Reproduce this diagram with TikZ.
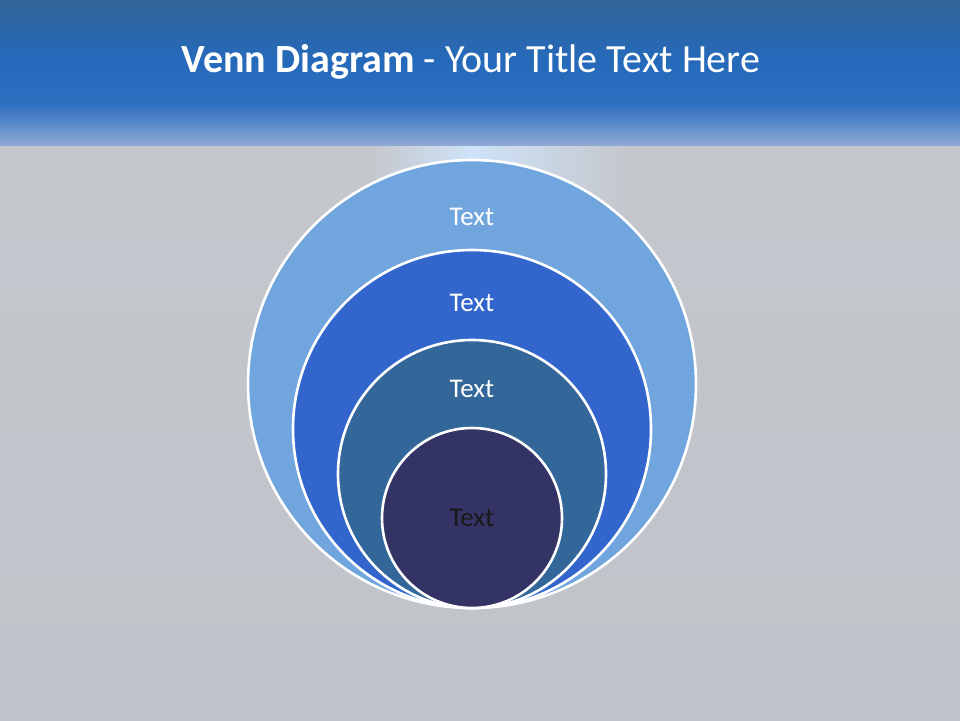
\documentclass[tikz,border=0pt]{standalone}
\usepackage{fontspec}
\setmainfont{Carlito}
\definecolor{bgA}{HTML}{C4C7CC}
\definecolor{bgB}{HTML}{BFC4CA}
\definecolor{bandTop}{HTML}{336699}
\definecolor{bandMid}{HTML}{2569BA}
\definecolor{bandLow}{HTML}{2E70C0}
\definecolor{bandBot}{HTML}{8FA8D4}
\definecolor{glow}{HTML}{CFE2F8}
\definecolor{cOne}{HTML}{71A5DE}
\definecolor{cTwo}{HTML}{3366CC}
\definecolor{cThree}{HTML}{336699}
\definecolor{cFour}{HTML}{333366}
\tikzset{
  ring/.style={circle, draw=white, line width=2.6pt, inner sep=0pt},
  lbl/.style={font=\fontsize{27}{32}\selectfont, text=white},
}
\begin{document}
\begin{tikzpicture}[x=1pt,y=-1pt]
\useasboundingbox (0,0) rectangle (960,720);
% background
\shade[top color=bgA, bottom color=bgB] (0,145) rectangle (960,720);
\shade[left color=bgA, right color=glow] (370,145) rectangle (472,300);
\shade[left color=glow, right color=bgA] (472,145) rectangle (630,300);
% top band
\shade[top color=bandTop, bottom color=bandMid] (0,0) rectangle (960,60);
\shade[top color=bandMid, bottom color=bandLow] (0,60) rectangle (960,105);
\shade[top color=bandLow, bottom color=bandBot] (0,105) rectangle (960,145);
% title
\node[text=white, font=\fontsize{40}{46}\selectfont] (title) at (471,62) {\textbf{Venn Diagram} - Your Title Text Here};
% circles
\node[ring, fill=cOne, minimum size=448pt] (c1) at (472,384) {};
\node[ring, fill=cTwo, minimum size=358pt] (c2) at (472,429) {};
\node[ring, fill=cThree, minimum size=268pt] (c3) at (472,474) {};
\node[ring, fill=cFour, minimum size=180pt] (c4) at (472,518) {};
% labels
\node[lbl] (t1) at (472,217) {Text};
\node[lbl] (t2) at (472,303) {Text};
\node[lbl] (t3) at (472,389) {Text};
\node[lbl, text=black!90] (t4) at (472,518) {Text};
\end{tikzpicture}
\end{document}
